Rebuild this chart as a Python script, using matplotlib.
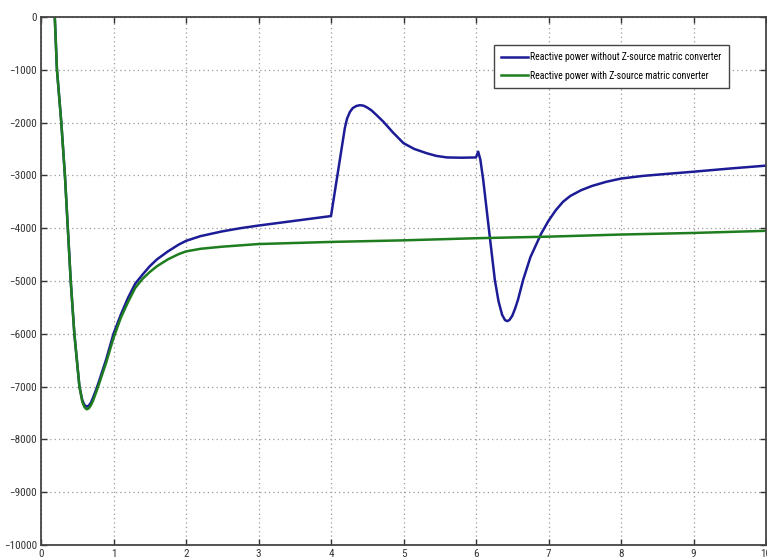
import matplotlib
matplotlib.use("Agg")
import matplotlib.pyplot as plt
from matplotlib import font_manager

# narrow font like the original MATLAB figure, first one that is installed
available = {f.name for f in font_manager.fontManager.ttflist}
narrow = [n for n in ["Liberation Sans Narrow", "Roboto Condensed", "Archivo Narrow",
                      "PT Sans Narrow", "Open Sans Condensed", "Pathway Gothic One",
                      "Arimo"] if n in available]
plt.rcParams['font.family'] = narrow[:1] + ['DejaVu Sans']

# reactive power without Z-source matrix converter
t_without = [0.19, 0.22, 0.28, 0.33, 0.37, 0.41, 0.46, 0.53, 0.57, 0.60, 0.63, 0.66, 0.69, 0.72, 0.76,
             0.80, 0.90, 1.0, 1.1, 1.2, 1.3, 1.4, 1.5, 1.6, 1.75, 1.9, 2.0, 2.2, 2.5, 2.75, 3.0,
             3.5, 4.0,
             4.19, 4.22, 4.26, 4.30, 4.35, 4.40, 4.45, 4.50, 4.56, 4.63, 4.72, 4.85, 5.0, 5.15,
             5.32, 5.45, 5.6, 5.8, 6.0, 6.03, 6.06, 6.1, 6.19, 6.26, 6.31, 6.36, 6.40, 6.43,
             6.46, 6.50, 6.54, 6.58, 6.65, 6.75, 6.9, 7.0, 7.1, 7.2, 7.3, 7.45, 7.6, 7.8, 8.0,
             8.3, 8.6, 9.0, 9.5, 10.0]
q_without = [0, -1000, -2000, -3000, -4000, -5000, -6000, -7000, -7260, -7350, -7380, -7360, -7300,
             -7200, -7060, -6900, -6480, -6000, -5640, -5320, -5050, -4880, -4720, -4590, -4440,
             -4310, -4240, -4150, -4060, -4000, -3950, -3860, -3770,
             -2110, -1930, -1800, -1725, -1685, -1670, -1680, -1715, -1770, -1860, -1980, -2180,
             -2390, -2500, -2580, -2630, -2660, -2665, -2660, -2550, -2700, -3090, -4160, -4980,
             -5380, -5640, -5740, -5760, -5740, -5660, -5520, -5350, -4980, -4550, -4100, -3860,
             -3660, -3500, -3390, -3280, -3200, -3120, -3060, -3010, -2975, -2930, -2870, -2815]

# reactive power with Z-source matrix converter
t_with = [0.19, 0.22, 0.28, 0.33, 0.37, 0.41, 0.46, 0.53, 0.57, 0.60, 0.63, 0.66, 0.69, 0.72, 0.76,
          0.80, 0.90, 1.0, 1.1, 1.2, 1.3, 1.4, 1.5, 1.6, 1.75, 1.9, 2.0, 2.2, 2.5, 3.0, 3.5,
          4.0, 5.0, 6.0, 7.0, 8.0, 9.0, 10.0]
q_with = [0, -1000, -2000, -3000, -4000, -5000, -6000, -7000, -7290, -7390, -7430, -7410, -7350,
          -7260, -7110, -6950, -6540, -6080, -5700, -5400, -5130, -4960, -4830, -4720, -4590,
          -4490, -4440, -4390, -4350, -4300, -4280, -4260, -4230, -4190, -4160, -4120, -4090,
          -4050]

xticks = list(range(0, 11))
yticks = list(range(-10000, 1, 1000))

fig = plt.figure(figsize=(7.67, 5.58), dpi=100)
ax = fig.add_axes([41 / 767, 13 / 558, 725 / 767, 528 / 558])

ax.plot(t_without, q_without, color="#1c1c96", lw=1.8,
        label="Reactive power without Z-source matric converter")
ax.plot(t_with, q_with, color="#1e7d1e", lw=1.8,
        label="Reactive power with Z-source matric converter")

ax.set_xlim(0, 10)
ax.set_ylim(-10000, 0)
ax.set_xticks(xticks)
ax.set_yticks(yticks)
ax.tick_params(direction="in", length=4, width=1, top=True, right=True,
               labelsize=8, colors="#333333", pad=3)
ax.grid(True, linestyle=(0, (1, 2.5)), color="#9a9a9a", lw=0.9)
for s in ax.spines.values():
    s.set_color("#444444")
    s.set_linewidth(1.3)

leg = ax.legend(loc="upper right", bbox_to_anchor=(0.949, 0.947), borderaxespad=0,
                fontsize=7, handlelength=2.8, handletextpad=0.25, fancybox=False,
                framealpha=1, edgecolor="#444444", borderpad=0.75, labelspacing=0.85)
leg.get_frame().set_linewidth(1.0)

fig.savefig("out.png", dpi=100)
